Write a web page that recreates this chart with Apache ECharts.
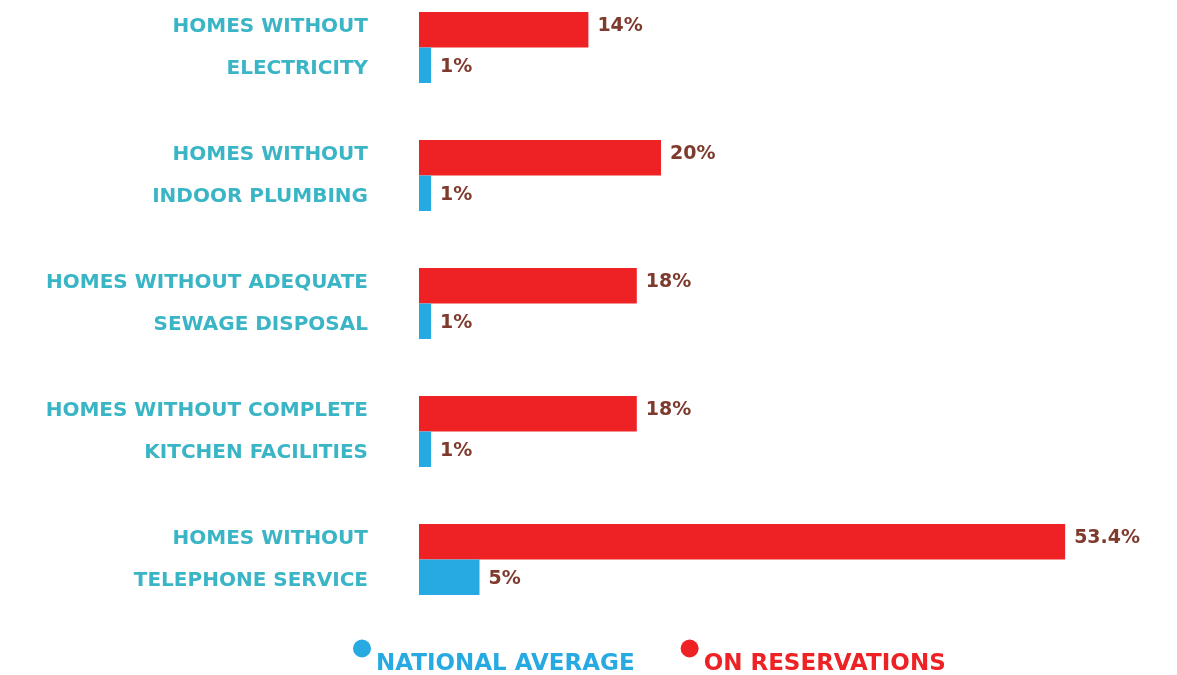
<!DOCTYPE html>
<html>
<head>
<meta charset="utf-8">
<script src="https://cdn.jsdelivr.net/npm/echarts@6/dist/echarts.min.js"></script>
<style>html,body{margin:0;padding:0;background:#fff;}#c{width:1177px;height:675px;}</style>
</head>
<body>
<div id="c"></div>
<script>
const categories = [
  "HOMES WITHOUT\nELECTRICITY",
  "HOMES WITHOUT\nINDOOR PLUMBING",
  "HOMES WITHOUT ADEQUATE\nSEWAGE DISPOSAL",
  "HOMES WITHOUT COMPLETE\nKITCHEN FACILITIES",
  "HOMES WITHOUT\nTELEPHONE SERVICE"
];
const onReservations = [14, 20, 18, 18, 53.4];
const nationalAverage = [1, 1, 1, 1, 5];
const seriesNames = ["NATIONAL AVERAGE", "ON RESERVATIONS"];

const RED = "#EE2224", BLUE = "#27AAE1", TEAL = "#3AB5C6", BROWN = "#7E3A2C";
const FONT = "'DejaVu Sans', sans-serif";

const chart = echarts.init(document.getElementById('c'));
chart.setOption({
  animation: false,
  grid: { left: 419, right: 32, top: -16.5, height: 640, containLabel: false, outerBoundsMode: 'none' },
  xAxis: { type: 'value', min: 0, max: 60, show: false },
  yAxis: {
    type: 'category', inverse: true, data: categories,
    axisLine: { show: false }, axisTick: { show: false },
    axisLabel: {
      margin: 51, align: 'right', color: TEAL, fontFamily: FONT,
      fontSize: 20, fontWeight: 'bold', lineHeight: 42
    }
  },
  legend: {
    bottom: -6, left: 348, itemGap: 46, itemWidth: 18, itemHeight: 18, icon: 'circle',
    selectedMode: false,
    formatter: '{t|{name}}',
    data: [
      { name: seriesNames[0], textStyle: { color: BLUE } },
      { name: seriesNames[1], textStyle: { color: RED } }
    ],
    textStyle: { fontFamily: FONT, fontSize: 23,
      rich: { t: { fontFamily: FONT, fontSize: 23, fontWeight: 'bold', padding: [32, 0, 0, 0] } } }
  },
  series: [
    {
      name: seriesNames[1], type: 'bar', data: onReservations, barWidth: 35.5, barGap: '0%',
      itemStyle: { color: RED },
      label: { show: true, position: 'right', distance: 9, offset: [0, -4], color: BROWN, fontFamily: FONT,
        fontSize: 19, fontWeight: 'bold', formatter: p => p.value + '%' }
    },
    {
      name: seriesNames[0], type: 'bar', data: nationalAverage, barWidth: 35.5, barGap: '0%',
      itemStyle: { color: BLUE },
      label: { show: true, position: 'right', distance: 9, offset: [0, 2], color: BROWN, fontFamily: FONT,
        fontSize: 19, fontWeight: 'bold', formatter: p => p.value + '%' }
    }
  ]
});
</script>
</body>
</html>
